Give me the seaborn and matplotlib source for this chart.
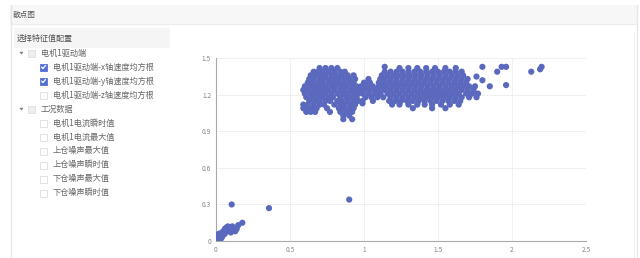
import matplotlib
matplotlib.use("Agg")
import matplotlib.pyplot as plt
import seaborn as sns
import pandas as pd
from matplotlib.patches import Rectangle, Polygon

sns.set_style("white")
plt.rcParams['font.family'] = ['Noto Sans CJK SC', 'DejaVu Sans']

# ---------------- data ----------------
title = "散点图"
panel_header = "选择特征值配置"
tree_labels = ["电机1驱动端", "电机1驱动端-x轴速度均方根", "电机1驱动端-y轴速度均方根",
               "电机1驱动端-z轴速度均方根", "工况数据", "电机1电流瞬时值", "电机1电流最大值",
               "上仓噪声最大值", "上仓噪声瞬时值", "下仓噪声最大值", "下仓噪声瞬时值"]
tree_levels = [0, 1, 1, 1, 0, 1, 1, 1, 1, 1, 1]
tree_checked = [False, True, True, False, False, False, False, False, False, False, False]

x_ticks = [0, 0.5, 1, 1.5, 2, 2.5]
x_tick_labels = ["0", "0.5", "1", "1.5", "2", "2.5"]
y_ticks = [0, 0.3, 0.6, 0.9, 1.2, 1.5]
y_tick_labels = ["0", "0.3", "0.6", "0.9", "1.2", "1.5"]

# left cluster: y -> x values
cluster_left = {
    1.42: [0.70, 0.74, 0.78, 0.82],
    1.39: [0.66, 0.69, 0.72, 0.76, 0.80, 0.84, 0.87],
    1.36: [0.64, 0.67, 0.71, 0.74, 0.78, 0.81, 0.85, 0.89, 0.93],
    1.33: [0.63, 0.66, 0.70, 0.73, 0.77, 0.80, 0.83, 0.87, 0.90, 0.94],
    1.30: [0.62, 0.65, 0.69, 0.72, 0.76, 0.79, 0.83, 0.86, 0.90, 0.93],
    1.27: [0.60, 0.64, 0.67, 0.71, 0.74, 0.78, 0.81, 0.85, 0.88, 0.92, 0.95],
    1.24: [0.59, 0.62, 0.66, 0.69, 0.73, 0.76, 0.80, 0.84, 0.87, 0.91, 0.94, 0.97],
    1.21: [0.60, 0.64, 0.67, 0.71, 0.74, 0.78, 0.82, 0.86, 0.89, 0.93, 0.96],
    1.18: [0.61, 0.65, 0.69, 0.72, 0.76, 0.79, 0.84, 0.88, 0.91, 0.95],
    1.15: [0.63, 0.67, 0.70, 0.74, 0.77, 0.82, 0.85, 0.89, 0.93, 0.96],
    1.12: [0.59, 0.62, 0.66, 0.70, 0.73, 0.80, 0.84, 0.87, 0.91, 0.94],
    1.09: [0.59, 0.62, 0.65, 0.68, 0.75, 0.83, 0.86, 0.90, 0.93],
    1.06: [0.61, 0.64, 0.67, 0.77, 0.84, 0.88, 0.92],
    1.03: [0.86, 0.90],
    1.00: [0.86, 0.92],
}
cluster_bridge = {
    1.30: [1.00, 1.04],
    1.27: [0.98, 1.02, 1.06, 1.10],
    1.24: [1.00, 1.04, 1.08],
    1.21: [0.99, 1.03, 1.07, 1.11],
    1.18: [1.01, 1.05, 1.09],
    1.15: [0.99, 1.06],
}
cluster_right = {
    1.42: [1.24, 1.30, 1.36, 1.42, 1.48, 1.55, 1.62],
    1.39: [1.14, 1.18, 1.22, 1.26, 1.30, 1.34, 1.38, 1.42, 1.46, 1.50, 1.54, 1.58, 1.62, 1.66],
    1.36: [1.12, 1.16, 1.20, 1.23, 1.27, 1.31, 1.35, 1.39, 1.43, 1.47, 1.51, 1.55, 1.59, 1.63, 1.67],
    1.33: [1.11, 1.14, 1.18, 1.22, 1.26, 1.30, 1.34, 1.38, 1.42, 1.46, 1.50, 1.54, 1.58, 1.62, 1.66, 1.70],
    1.30: [1.10, 1.13, 1.17, 1.21, 1.25, 1.29, 1.33, 1.37, 1.41, 1.45, 1.49, 1.53, 1.57, 1.61, 1.65, 1.69],
    1.27: [1.12, 1.15, 1.19, 1.23, 1.27, 1.31, 1.35, 1.39, 1.43, 1.47, 1.51, 1.55, 1.59, 1.63, 1.67, 1.71, 1.75],
    1.24: [1.10, 1.14, 1.18, 1.22, 1.26, 1.30, 1.34, 1.38, 1.42, 1.46, 1.50, 1.54, 1.58, 1.62, 1.66, 1.70, 1.74],
    1.21: [1.11, 1.16, 1.20, 1.24, 1.28, 1.32, 1.36, 1.40, 1.44, 1.48, 1.52, 1.56, 1.60, 1.64, 1.69, 1.73, 1.77],
    1.18: [1.13, 1.18, 1.22, 1.26, 1.30, 1.34, 1.38, 1.42, 1.46, 1.50, 1.54, 1.58, 1.62, 1.66, 1.71, 1.76],
    1.15: [1.17, 1.21, 1.25, 1.29, 1.33, 1.37, 1.41, 1.45, 1.49, 1.53, 1.57, 1.61, 1.65],
    1.12: [1.19, 1.24, 1.30, 1.36, 1.41, 1.46, 1.52, 1.58, 1.64],
    1.09: [1.33, 1.46, 1.55],
}
outliers_x = [1.80, 1.90, 1.93, 1.96, 1.85, 1.96, 2.13, 2.19, 2.20, 1.76, 1.80, 1.14, 1.03, 0.99,
              0.106, 0.358, 0.90, 0.178, 0.15, 0.14]
outliers_y = [1.43, 1.39, 1.43, 1.43, 1.27, 1.28, 1.39, 1.41, 1.43, 1.35, 1.32, 1.43, 1.33, 1.13,
              0.30, 0.27, 0.34, 0.15, 0.13, 0.10]
origin_x = [0.01, 0.02, 0.03, 0.02, 0.04, 0.03, 0.05, 0.04, 0.06, 0.05, 0.07, 0.06, 0.08, 0.07,
            0.09, 0.10, 0.11, 0.08, 0.12, 0.02, 0.01, 0.03, 0.10, 0.13]
origin_y = [0.01, 0.02, 0.01, 0.04, 0.03, 0.05, 0.05, 0.07, 0.06, 0.08, 0.08, 0.10, 0.09, 0.11,
            0.11, 0.10, 0.12, 0.12, 0.09, 0.06, 0.03, 0.03, 0.07, 0.08]

# ---------------- build table ----------------
xs, ys = [], []
for cl in (cluster_left, cluster_bridge, cluster_right):
    for yv, xl in cl.items():
        for xv in xl:
            xs.append(xv)
            ys.append(yv)
xs += outliers_x + origin_x
ys += outliers_y + origin_y
df = pd.DataFrame({"x": xs, "y": ys})

W, H = 640, 258
fig = plt.figure(figsize=(6.4, 2.58), dpi=100)
fig.patch.set_facecolor("white")

# ---------------- UI background ----------------
bg = fig.add_axes([0, 0, 1, 1])
bg.set_xlim(0, W)
bg.set_ylim(H, 0)
bg.axis("off")

bg.add_patch(Rectangle((10, 5), 627, 19, facecolor="#f7f7f7", edgecolor="none"))
bg.plot([10.5, 10.5], [5, 258], color="#e6e6e6", lw=1)
bg.plot([636.5, 636.5], [5, 258], color="#e6e6e6", lw=1)
bg.plot([10, 637], [24, 24], color="#ececec", lw=0.8)
bg.plot([634, 634], [32, 258], color="#f0f0f0", lw=0.8)
bg.text(13, 14.5, title, fontsize=5.5, color="#555555", va="center", ha="left")

bg.add_patch(Rectangle((14, 28), 156, 20, facecolor="#f5f5f5", edgecolor="none"))
bg.text(17, 38.5, panel_header, fontsize=5.8, color="#555555", va="center", ha="left")

row_y0, row_dy = 53, 14
for i, (lab, lev, chk) in enumerate(zip(tree_labels, tree_levels, tree_checked)):
    yc = row_y0 + i * row_dy
    if lev == 0:
        bx = 28
        bg.add_patch(Polygon([[19.5, yc - 1.2], [23.5, yc - 1.2], [21.5, yc + 1.5]],
                             closed=True, facecolor="#777777", edgecolor="none"))
        bg.add_patch(Rectangle((bx, yc - 3.5), 7, 7, facecolor="#eeeeee",
                               edgecolor="#e0e0e0", lw=0.6))
        tx = 41
    else:
        bx = 40
        if chk:
            bg.add_patch(Rectangle((bx, yc - 3.5), 7, 7, facecolor="#5470d6",
                                   edgecolor="#5470d6", lw=0.6))
            bg.plot([bx + 1.6, bx + 3.0, bx + 5.5], [yc + 0.1, yc + 1.6, yc - 1.5],
                    color="white", lw=0.9, solid_capstyle="round")
        else:
            bg.add_patch(Rectangle((bx, yc - 3.5), 7, 7, facecolor="white",
                                   edgecolor="#dddddd", lw=0.6))
        tx = 53
    bg.text(tx, yc, lab, fontsize=5.9, color="#666666", va="center", ha="left")

# ---------------- scatter ----------------
ax = fig.add_axes([216 / W, (H - 241) / H, 370 / W, 182.7 / H])
ax.set_facecolor("none")
sns.scatterplot(data=df, x="x", y="y", ax=ax, s=20, color="#5a68bd", edgecolor="none",
                alpha=1.0, legend=False, zorder=3)
ax.set_xlim(0, 2.5)
ax.set_ylim(0, 1.5)
ax.set_xticks(x_ticks)
ax.set_xticklabels(x_tick_labels)
ax.set_yticks(y_ticks)
ax.set_yticklabels(y_tick_labels)
ax.set_xlabel("")
ax.set_ylabel("")
ax.grid(True, color="#eeeeee", lw=0.6, zorder=0)
ax.set_axisbelow(True)
for s in ("top", "right"):
    ax.spines[s].set_visible(False)
for s in ("left", "bottom"):
    ax.spines[s].set_color("#aaaaaa")
    ax.spines[s].set_linewidth(0.8)
ax.tick_params(axis="both", length=2, width=0.6, color="#aaaaaa", labelsize=4.8,
               labelcolor="#888888", pad=1.5)

fig.savefig("out.png", dpi=100)
